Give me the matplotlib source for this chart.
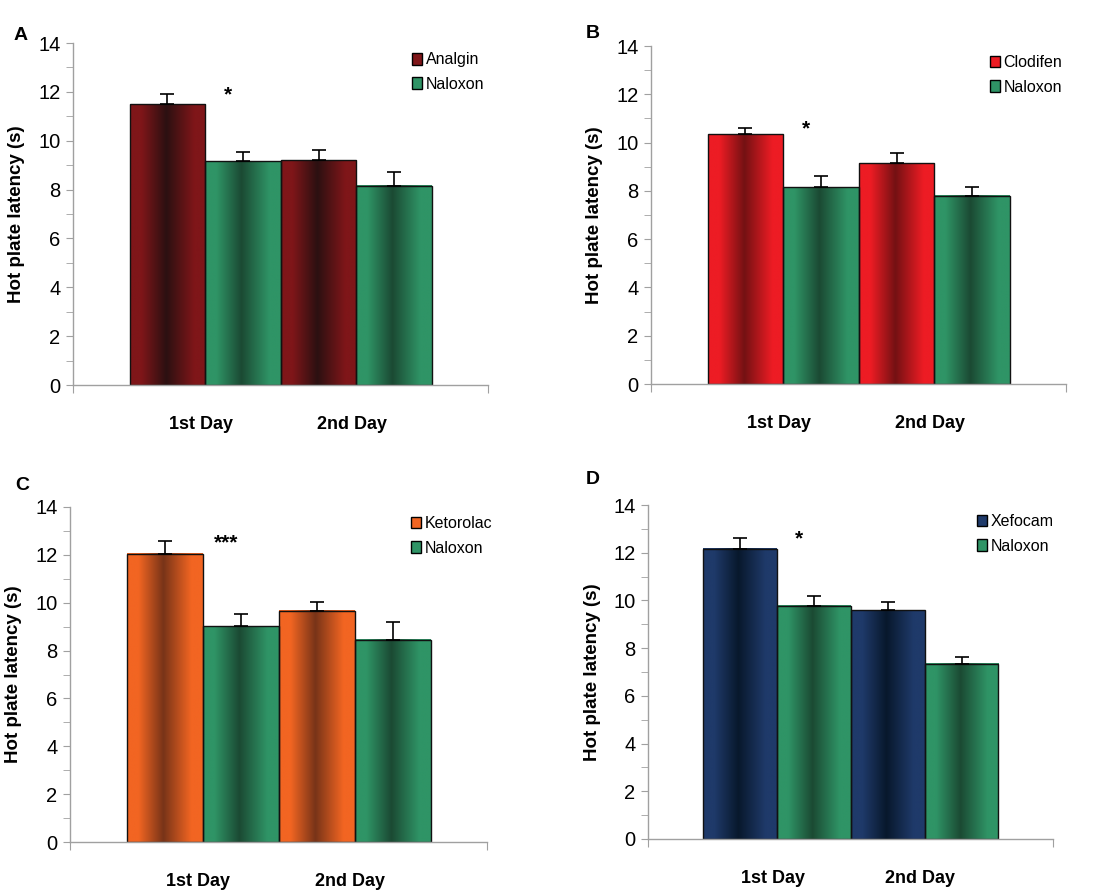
import numpy as np
import matplotlib
matplotlib.use("Agg")
from matplotlib import pyplot as plt
from matplotlib.colors import LinearSegmentedColormap
from matplotlib.patches import Patch

plt.rcParams['font.family'] = ['Liberation Sans', 'DejaVu Sans']

days = ["1st Day", "2nd Day"]
panels = ["A", "B", "C", "D"]
drugs = ["Analgin", "Clodifen", "Ketorolac", "Xefocam"]

# latency (s) for the drug and for drug + naloxon, per day
analgin = [11.5, 9.2]
analgin_err = [0.42, 0.4]
analgin_nal = [9.15, 8.15]
analgin_nal_err = [0.38, 0.55]

clodifen = [10.35, 9.15]
clodifen_err = [0.27, 0.41]
clodifen_nal = [8.15, 7.8]
clodifen_nal_err = [0.47, 0.36]

ketorolac = [12.05, 9.67]
ketorolac_err = [0.52, 0.36]
ketorolac_nal = [9.01, 8.45]
ketorolac_nal_err = [0.51, 0.73]

xefocam = [12.17, 9.58]
xefocam_err = [0.46, 0.36]
xefocam_nal = [9.78, 7.34]
xefocam_nal_err = [0.42, 0.27]

stars = ["*", "*", "***", "*"]

drug_vals = [analgin, clodifen, ketorolac, xefocam]
drug_errs = [analgin_err, clodifen_err, ketorolac_err, xefocam_err]
nal_vals = [analgin_nal, clodifen_nal, ketorolac_nal, xefocam_nal]
nal_errs = [analgin_nal_err, clodifen_nal_err, ketorolac_nal_err, xefocam_nal_err]

# (light edge, dark middle)
drug_colors = [("#7f1619", "#2b1011"), ("#ed1c24", "#741113"),
               ("#f26522", "#783418"), ("#1f3a6a", "#08182c")]
nal_color = ("#2f9466", "#1b4a33")

# axes boxes in pixels: x0, x1, y_top(14), y_bottom(0)
boxes = [(73, 488, 43, 385), (651, 1066, 46, 384),
         (70, 487, 507, 842), (648, 1053, 505, 839)]
letter_pos = [(21, 35), (593, 34), (22, 485), (593, 479)]

W, H = 1103, 890
fig = plt.figure(figsize=(W / 100, H / 100), dpi=100)


def gradient_cmap(light, dark):
    return LinearSegmentedColormap.from_list(
        "g", [(0, light), (0.15, light), (0.48, dark), (0.85, light), (1, light)])


def gradient_bars(ax, bars, cols):
    cmap = gradient_cmap(*cols)
    grad = np.linspace(0, 1, 256).reshape(1, -1)
    for b in bars:
        x, y = b.get_x(), b.get_y()
        w, h = b.get_width(), b.get_height()
        ax.imshow(grad, cmap=cmap, aspect="auto", extent=(x, x + w, y, y + h),
                  zorder=1, interpolation="bilinear")
        b.set_facecolor("none")
        b.set_zorder(2)


for i in range(4):
    x0, x1, yt, yb = boxes[i]
    ax = fig.add_axes([x0 / W, 1 - yb / H, (x1 - x0) / W, (yb - yt) / H])
    pos = np.arange(len(days))
    w = 0.5
    b1 = ax.bar(pos - w / 2, drug_vals[i], width=w, edgecolor="#111111", linewidth=1.0)
    b2 = ax.bar(pos + w / 2, nal_vals[i], width=w, edgecolor="#111111", linewidth=1.0)
    gradient_bars(ax, b1, drug_colors[i])
    gradient_bars(ax, b2, nal_color)
    ax.errorbar(pos - w / 2, drug_vals[i], yerr=[np.zeros(2), drug_errs[i]],
                fmt="none", ecolor="black", elinewidth=1.2, capsize=5, capthick=1.2, zorder=3)
    ax.errorbar(pos + w / 2, nal_vals[i], yerr=[np.zeros(2), nal_errs[i]],
                fmt="none", ecolor="black", elinewidth=1.2, capsize=5, capthick=1.2, zorder=3)

    ax.text(0.15, drug_vals[i][0] + drug_errs[i][0] - 0.05, stars[i], ha="center", va="center",
            fontsize=15, fontweight="bold")

    ax.set_xlim(-0.875, 1.87)
    ax.set_ylim(0, 14)
    ax.set_yticks(range(0, 15, 2))
    ax.set_yticks(range(1, 14, 2), minor=True)
    ax.set_xticks([-0.875, 1.87])
    ax.set_xticklabels(["", ""])
    ax.set_xticks(pos - 0.03, minor=True)
    ax.set_xticklabels(days, minor=True, fontsize=13, fontweight="bold")
    ax.tick_params(axis="x", which="minor", length=0, pad=22)
    ax.tick_params(axis="x", which="major", length=6, color="#a0a0a0")
    ax.tick_params(axis="y", which="both", length=5, color="#a0a0a0", labelsize=14.5, pad=4)
    for s in ["top", "right"]:
        ax.spines[s].set_visible(False)
    for s in ["left", "bottom"]:
        ax.spines[s].set_color("#a0a0a0")
        ax.spines[s].set_linewidth(1.0)

    ax.set_ylabel("Hot plate latency (s)", fontsize=13.5, fontweight="bold")
    ax.yaxis.set_label_coords(-0.116, 0.5)

    cd = drug_colors[i]
    handles = [Patch(facecolor=cd[0], edgecolor="black", linewidth=1.0, label=drugs[i]),
               Patch(facecolor=nal_color[0], edgecolor="black", linewidth=1.0, label="Naloxon")]
    lx = (x1 - x0 - 76) / (x1 - x0)
    ax.legend(handles=handles, loc="upper left", bbox_to_anchor=(lx, 0.973), frameon=False,
              fontsize=11.5, handlelength=0.6, handleheight=0.75, handletextpad=0.25,
              labelspacing=0.6, borderaxespad=0, borderpad=0)

    fig.text(letter_pos[i][0] / W, 1 - letter_pos[i][1] / H, panels[i], ha="center", va="center",
             fontsize=14, fontweight="bold")

fig.savefig("out.png", dpi=100)
